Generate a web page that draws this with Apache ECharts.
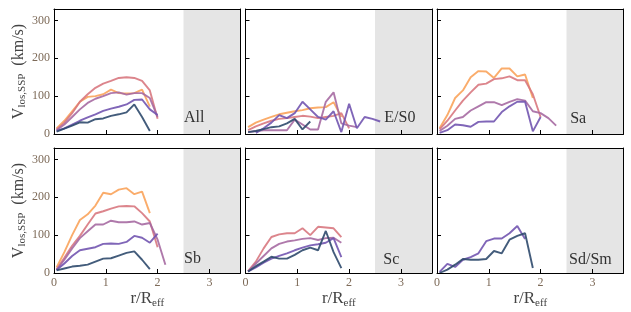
<!DOCTYPE html>
<html>
<head>
<meta charset="utf-8">
<script src="https://cdn.jsdelivr.net/npm/echarts@6/dist/echarts.min.js"></script>
<style>
  html, body { margin: 0; padding: 0; background: #fff; }
  #main { width: 631px; height: 312px; }
</style>
</head>
<body>
<div id="main"></div>
<script>
// radius bins (r/Reff)
var rBins = [0.05, 0.2, 0.35, 0.5, 0.65, 0.8, 0.95, 1.1, 1.25, 1.4, 1.55, 1.7, 1.85, 2.0, 2.15, 2.3, 2.45, 2.6];
var xTicks = [0, 1, 2, 3];
var yTicks = [0, 100, 200, 300];
var panelNames = ['All', 'E/S0', 'Sa', 'Sb', 'Sc', 'Sd/Sm'];
var labelX = [2.51, 2.68, 2.57, 2.51, 2.66, 2.55];
var labelY = [22, 22, 20, 16, 15, 15];

// All
var allOrange = [15, 35, 60, 85, 98, 100, 105, 117, 108, 107, 108, 117, 72];
var allPink   = [12, 30, 55, 85, 105, 122, 133, 140, 148, 150, 148, 140, 115, 40];
var allMauve  = [10, 25, 45, 65, 82, 93, 100, 108, 110, 104, 108, 108, 95, 45];
var allPurple = [8, 15, 25, 35, 44, 52, 61, 67, 72, 78, 90, 91, 65, 50];
var allNavy   = [6, 14, 22, 31, 30, 39, 41, 48, 52, 57, 78, 45, 8];
// E/S0
var es0Orange = [18, 30, 38, 45, 52, 56, 60, 63, 68, 70, 71, 84, 45];
var es0Pink   = [10, 20, 28, 35, 40, 42, 45, 48, 46, 42, 45, 48, 55, 15];
var es0Mauve  = [5, 8, 10, 10, 10, 10, 38, 25, 12, 12, 85, 110, 28, 22, 18];
var es0Purple = [null, 3, 15, 30, 50, 42, 55, 85, 65, 45, 38, 60, 5, 80, 15, 45, 40, 33];
var es0Navy   = [5, 8, 13, 18, 20, 28, 40, 12, 33];
// Sa
var saOrange = [15, 50, 95, 115, 150, 166, 165, 148, 173, 173, 152, 157, 95];
var saPink   = [12, 35, 62, 88, 110, 130, 133, 145, 147, 152, 142, 142, 105, 45];
var saMauve  = [8, 22, 40, 45, 62, 73, 84, 84, 76, 85, 92, 88, 60, 55, 42, 22];
var saPurple = [3, 10, 25, 23, 19, 32, 33, 33, 58, 73, 85, 85, 7, 45];
// Sb
var sbOrange = [15, 55, 100, 140, 155, 178, 212, 208, 220, 224, 208, 215, 158];
var sbPink   = [10, 40, 72, 98, 128, 157, 163, 170, 176, 177, 176, 158, 136, 68];
var sbMauve  = [8, 35, 65, 92, 110, 128, 128, 138, 134, 134, 136, 128, 132, 88, 22];
var sbPurple = [8, 25, 45, 60, 64, 68, 77, 78, 77, 82, 98, 93, 80, 104];
var sbNavy   = [7, 12, 17, 19, 22, 30, 38, 39, 46, 53, 57, 35, 10];
// Sc
var scPink   = [5, 30, 65, 95, 102, 105, 105, 118, 100, 122, 120, 118, 95];
var scMauve  = [4, 25, 45, 65, 77, 83, 86, 90, 92, 87, 92, 93, 80];
var scPurple = [4, 15, 27, 38, 45, 52, 60, 67, 73, 76, 80, 92, 42];
var scNavy   = [4, 18, 30, 43, 38, 38, 48, 60, 67, 60, 111, 55, 13];
// Sd/Sm
var sdPurple = [3, 24, 16, 35, 42, 52, 84, 91, 91, 105, 124, 90];
var sdNavy   = [0, 9, 22, 37, 35, 35, 37, 58, 52, 88, 98, 105, 13];

var C = {orange: '#f9a35b', pink: '#d8787f', mauve: '#a66aa2', purple: '#7255b0', navy: '#2f4a6d'};

var panels = [
    [['orange', allOrange], ['pink', allPink], ['mauve', allMauve], ['purple', allPurple], ['navy', allNavy]],
    [['orange', es0Orange], ['pink', es0Pink], ['mauve', es0Mauve], ['purple', es0Purple], ['navy', es0Navy]],
    [['orange', saOrange], ['pink', saPink], ['mauve', saMauve], ['purple', saPurple]],
    [['orange', sbOrange], ['pink', sbPink], ['mauve', sbMauve], ['purple', sbPurple], ['navy', sbNavy]],
    [['pink', scPink], ['mauve', scMauve], ['purple', scPurple], ['navy', scNavy]],
    [['purple', sdPurple], ['navy', sdNavy]]
];

var colLeft = [54, 245.5, 437];
var rowTop = [9, 148];
var panelW = 186.5, panelH = 125;
var serif = 'Liberation Serif';
var tickColor = '#7d6a58';

var grids = [], xAxes = [], yAxes = [], series = [];

panels.forEach(function(lines, p) {
    var row = Math.floor(p / 3), col = p % 3;
    grids.push({left: colLeft[col], top: rowTop[row], width: panelW, height: panelH});
    xAxes.push({
        type: 'value', gridIndex: p, min: 0, max: 3.6, interval: 1, z: 10,
        axisLine: {show: true, lineStyle: {color: '#000', width: 1}},
        axisTick: {show: true, inside: true, length: 4, lineStyle: {color: '#000'}},
        axisLabel: {show: row === 1, showMaxLabel: false, color: tickColor, fontFamily: serif, fontSize: 12, margin: 4},
        splitLine: {show: false},
        name: row === 1 ? 'r/R{sub|eff}' : '',
        nameLocation: 'middle', nameGap: 16,
        nameTextStyle: {fontFamily: serif, fontSize: 17, color: '#444',
            rich: {sub: {fontFamily: serif, fontSize: 11, color: '#444', padding: [9, 0, 0, 0]}}}
    });
    // top border
    xAxes.push({
        type: 'value', gridIndex: p, min: 0, max: 3.6, position: 'top', z: 10,
        axisLine: {show: true, onZero: false, lineStyle: {color: '#000', width: 1}},
        axisTick: {show: false}, axisLabel: {show: false}, splitLine: {show: false}
    });
    yAxes.push({
        type: 'value', gridIndex: p, min: 0, max: 330, interval: 100, z: 10,
        axisLine: {show: true, lineStyle: {color: '#000', width: 1}},
        axisTick: {show: true, inside: true, length: 4, lineStyle: {color: '#000'}},
        axisLabel: {show: col === 0, showMaxLabel: false, color: tickColor, fontFamily: serif, fontSize: 12, margin: 4},
        splitLine: {show: false},
        name: col === 0 ? 'V{sub|los,SSP}  (km/s)' : '',
        nameLocation: 'middle', nameGap: 26, nameRotate: 90,
        nameTextStyle: {fontFamily: serif, fontSize: 16, color: '#444',
            rich: {sub: {fontFamily: serif, fontSize: 11, color: '#444', padding: [8, 0, 0, 0]}}}
    });
    // right border
    yAxes.push({
        type: 'value', gridIndex: p, min: 0, max: 330, position: 'right', z: 10,
        axisLine: {show: true, onZero: false, lineStyle: {color: '#000', width: 1}},
        axisTick: {show: false}, axisLabel: {show: false}, splitLine: {show: false}
    });
    var xi = p * 2, yi = p * 2;

    // grey region beyond 2.5 Reff
    series.push({
        type: 'line', xAxisIndex: xi, yAxisIndex: yi, data: [], silent: true,
        markArea: {silent: true, itemStyle: {color: '#e5e5e5'},
            data: [[{coord: [2.5, 0]}, {coord: [3.6, 330]}]]}
    });

    lines.forEach(function(l) {
        var pts = [];
        l[1].forEach(function(v, i) { if (v !== null) pts.push([rBins[i], v]); });
        series.push({
            type: 'line', xAxisIndex: xi, yAxisIndex: yi, data: pts,
            showSymbol: false, symbol: 'none', silent: true,
            lineStyle: {color: C[l[0]], width: 1.9, opacity: 0.9}
        });
    });

    series.push({
        type: 'scatter', xAxisIndex: xi, yAxisIndex: yi, symbolSize: 0, silent: true,
        data: [[labelX[p], labelY[p]]],
        label: {show: true, position: 'inside', align: 'left', verticalAlign: 'bottom',
            formatter: panelNames[p], fontFamily: serif, fontSize: 16, color: '#000'}
    });
});

var chart = echarts.init(document.getElementById('main'), null, {renderer: 'canvas'});
chart.setOption({
    animation: false,
    grid: grids,
    xAxis: xAxes,
    yAxis: yAxes,
    series: series
});
</script>
</body>
</html>
